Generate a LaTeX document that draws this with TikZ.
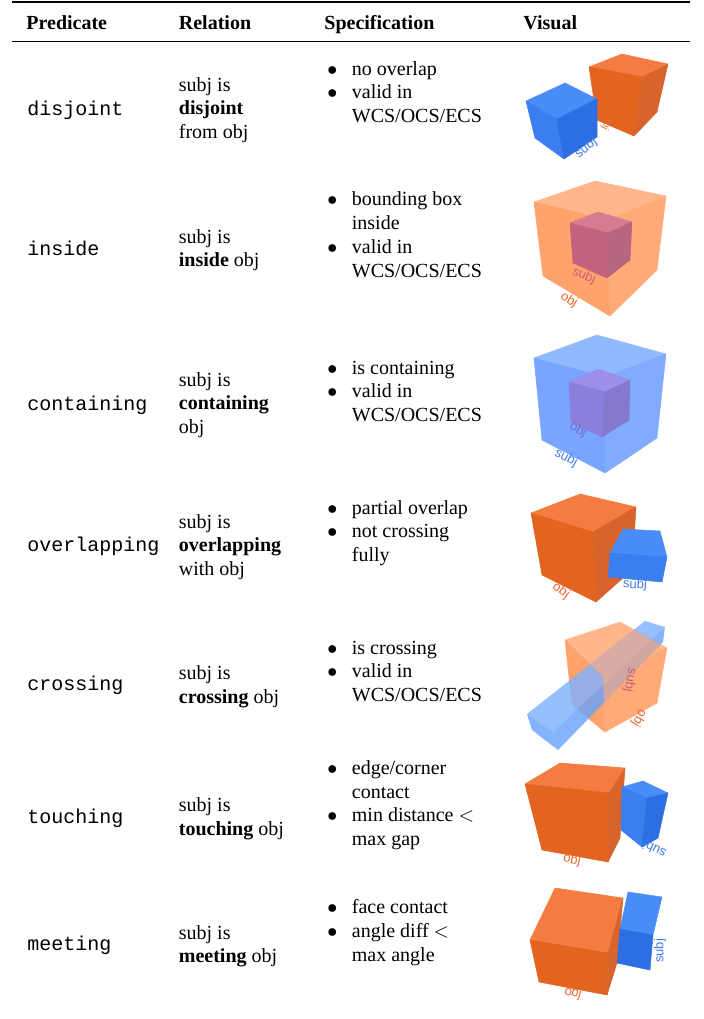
\documentclass[tikz,border=0pt]{standalone}
\usepackage{fontspec}
\setmainfont{Liberation Serif}
\setmonofont{Liberation Mono}
\newfontfamily\lblfont{Liberation Sans}

\definecolor{otop}{HTML}{F47C40}
\definecolor{oleft}{HTML}{E2641F}
\definecolor{oright}{HTML}{D8642C}
\definecolor{btop}{HTML}{4A8DF9}
\definecolor{bleft}{HTML}{3A7EF0}
\definecolor{bright}{HTML}{2D6FE2}
\definecolor{lotop}{HTML}{FFB68A}
\definecolor{loleft}{HTML}{FFA26C}
\definecolor{loright}{HTML}{FFAA77}
\definecolor{ptop}{HTML}{D57C92}
\definecolor{pleft}{HTML}{C3637F}
\definecolor{pright}{HTML}{B8657F}
\definecolor{lbtop}{HTML}{90B9FF}
\definecolor{lbleft}{HTML}{77A5FF}
\definecolor{lbright}{HTML}{80ABFF}
\definecolor{vtop}{HTML}{9C90EA}
\definecolor{vleft}{HTML}{8A80DB}
\definecolor{vright}{HTML}{8479CF}
\definecolor{bartop}{HTML}{7FB1FF}
\definecolor{barside}{HTML}{6AA2FB}
\definecolor{objtxt}{HTML}{E8692E}
\definecolor{subjtxt}{HTML}{3F7BEB}
\definecolor{pinktxt}{HTML}{C4627C}
\definecolor{purtxt}{HTML}{7B6CC8}

\newcommand{\bul}{\makebox[12.25pt][l]{$\bullet$}}
\newcommand{\ind}{\hspace*{12.25pt}}

\tikzset{
  hdr/.style={anchor=base west, inner sep=0, font=\bfseries},
  pred/.style={anchor=base west, inner sep=0, font=\ttfamily},
  rel/.style={anchor=base west, inner sep=0, align=left, font=\fontsize{10}{11.7}\selectfont},
  spec/.style={anchor=base west, inner sep=0, align=left, font=\fontsize{10}{11.9}\selectfont},
  face/.style={fill=#1, draw=#1, line width=0.25pt, line join=round},
  glass/.style={fill=#1, fill opacity=0.82},
  lbl/.style={inner sep=0, font=\lblfont\fontsize{6.5}{7}\selectfont},
}

\begin{document}
\begin{tikzpicture}[x=0.5pt, y=-0.5pt]
  \useasboundingbox (0,0) rectangle (704,1019);
  \draw[line width=0.9pt] (12,2) -- (690,2);
  \draw[line width=0.5pt] (12,41) -- (690,41);

  \node[hdr] (hpred) at (26,29.3) {Predicate};
  \node[hdr] (hrel) at (178.5,29.3) {Relation};
  \node[hdr] (hspec) at (324,29.3) {Specification};
  \node[hdr] (hvis) at (523,29.3) {Visual};

  % predicates
  \node[pred] (p1) at (27,115) {disjoint};
  \node[pred] (p2) at (27,255) {inside};
  \node[pred] (p3) at (27,410) {containing};
  \node[pred] (p4) at (27,551.7) {overlapping};
  \node[pred] (p5) at (27,690) {crossing};
  \node[pred] (p6) at (27,823.3) {touching};
  \node[pred] (p7) at (27,950.7) {meeting};

  % relations (base = last line)
  \node[rel] (r1) at (178.5,138.3) {subj is\\\textbf{disjoint}\\from obj};
  \node[rel] (r2) at (178.5,266.7) {subj is\\\textbf{inside} obj};
  \node[rel] (r3) at (178.5,433.3) {subj is\\\textbf{containing}\\obj};
  \node[rel] (r4) at (178.5,575) {subj is\\\textbf{overlapping}\\with obj};
  \node[rel] (r5) at (178.5,703.3) {subj is\\\textbf{crossing} obj};
  \node[rel] (r6) at (178.5,835) {subj is\\\textbf{touching} obj};
  \node[rel] (r7) at (178.5,962.7) {subj is\\\textbf{meeting} obj};

  % specifications
  \node[spec] (s1) at (327,122.7) {\bul no overlap\\\bul valid in\\\ind WCS/OCS/ECS};
  \node[spec] (s2) at (327,277.3) {\bul bounding box\\\ind inside\\\bul valid in\\\ind WCS/OCS/ECS};
  \node[spec] (s3) at (327,421.7) {\bul is containing\\\bul valid in\\\ind WCS/OCS/ECS};
  \node[spec] (s4) at (327,561.7) {\bul partial overlap\\\bul not crossing\\\ind fully};
  \node[spec] (s5) at (327,701.7) {\bul is crossing\\\bul valid in\\\ind WCS/OCS/ECS};
  \node[spec] (s6) at (327,845.7) {\bul edge/corner\\\ind contact\\\bul min distance $<$\\\ind max gap};
  \node[spec] (s7) at (327,961) {\bul face contact\\\bul angle diff $<$\\\ind max angle};

  % disjoint
  \path[face=otop] (589,67) -- (622,54) -- (668,64) -- (643,77) -- cycle;
  \path[face=oleft] (589,67) -- (643,77) -- (634,136) -- (597,120) -- cycle;
  \path[face=oright] (643,77) -- (668,64) -- (657,112) -- (634,136) -- cycle;
  \path[face=btop] (526,101) -- (565,83) -- (597,99) -- (557,119) -- cycle;
  \path[face=bleft] (526,101) -- (557,119) -- (564,159) -- (535,138) -- cycle;
  \path[face=bright] (557,119) -- (597,99) -- (597,137) -- (564,159) -- cycle;
  \node[lbl, text=subjtxt, rotate=40] (d1) at (586,148) {subj};
  \node[lbl, text=objtxt, rotate=-115, font=\lblfont\fontsize{5}{6}\selectfont] (d2) at (607,124) {obj};

  % inside
  \path[face=lotop] (534,202) -- (595,181) -- (666,196) -- (608,220) -- cycle;
  \path[face=loleft] (534,202) -- (608,220) -- (610,316) -- (543,276) -- cycle;
  \path[face=loright] (608,220) -- (666,196) -- (657,270) -- (610,316) -- cycle;
  \path[face=ptop] (570,223) -- (598,212) -- (632,222) -- (608,233) -- cycle;
  \path[face=pleft] (570,223) -- (608,233) -- (607,278) -- (573,263) -- cycle;
  \path[face=pright] (608,233) -- (632,222) -- (630,260) -- (607,278) -- cycle;
  \node[lbl, text=pinktxt, rotate=-25] (i1) at (584,276) {subj};
  \node[lbl, text=objtxt, rotate=-32] (i2) at (569,300) {obj};

  % containing
  \path[face=lbtop] (534,358) -- (597,335) -- (666,354) -- (605,377) -- cycle;
  \path[face=lbleft] (534,358) -- (605,377) -- (605,473) -- (542,440) -- cycle;
  \path[face=lbright] (605,377) -- (666,354) -- (657,438) -- (605,473) -- cycle;
  \path[face=vtop] (569,382) -- (598,369) -- (630,380) -- (605,392) -- cycle;
  \path[face=vleft] (569,382) -- (605,392) -- (602,437) -- (571,422) -- cycle;
  \path[face=vright] (605,392) -- (630,380) -- (629,420) -- (602,437) -- cycle;
  \node[lbl, text=purtxt, rotate=-30] (c1) at (578,430) {obj};
  \node[lbl, text=subjtxt, rotate=-28] (c2) at (566,458) {subj};

  % overlapping
  \path[face=otop] (531,513) -- (580,494) -- (636,507) -- (593,532) -- cycle;
  \path[face=oleft] (531,513) -- (593,532) -- (596,602) -- (542,575) -- cycle;
  \path[face=oright] (593,532) -- (636,507) -- (632,570) -- (596,602) -- cycle;
  \path[face=btop] (610,553) -- (623,529) -- (660,531) -- (667,557) -- cycle;
  \path[face=bleft] (610,553) -- (667,557) -- (662,582) -- (608,577) -- cycle;
  \node[lbl, text=objtxt, rotate=-35] (o1) at (561,591) {obj};
  \node[lbl, text=subjtxt, rotate=-3] (o2) at (635,585) {subj};

  % crossing
  \path[face=lotop] (565,640) -- (620,622) -- (667,648) -- (603,677) -- cycle;
  \path[face=loleft] (565,640) -- (603,677) -- (605,732) -- (572,705) -- cycle;
  \path[face=loright] (603,677) -- (667,648) -- (657,703) -- (605,732) -- cycle;
  \path[glass=bartop] (527,714) -- (645,621) -- (665,627) -- (553,732) -- cycle;
  \path[glass=barside] (553,732) -- (665,627) -- (663,642) -- (558,750) -- cycle;
  \path[glass=barside] (527,714) -- (553,732) -- (558,750) -- (532,730) -- cycle;
  \begin{scope}
    \clip (527,714) -- (645,621) -- (665,627) -- (663,642) -- (558,750) -- (532,730) -- cycle;
    \path[glass=loright, fill opacity=0.62] (565,640) -- (620,622) -- (667,648) -- (657,703) -- (605,732) -- (603,677) -- cycle;
  \end{scope}
  \node[lbl, text=pinktxt, rotate=-100] (x1) at (630,680) {subj};
  \node[lbl, text=objtxt, rotate=-120] (x2) at (639,718) {obj};

  % touching
  \path[face=otop] (525,784) -- (560,763) -- (625,768) -- (609,793) -- cycle;
  \path[face=oleft] (525,784) -- (609,793) -- (608,862) -- (542,850) -- cycle;
  \path[face=oright] (609,793) -- (625,768) -- (620,838) -- (608,862) -- cycle;
  \path[face=btop] (622,787) -- (643,781) -- (668,793) -- (647,798) -- cycle;
  \path[face=bleft] (622,787) -- (647,798) -- (642,847) -- (621,830) -- cycle;
  \path[face=bright] (647,798) -- (668,793) -- (658,838) -- (642,847) -- cycle;
  \node[lbl, text=objtxt, rotate=-10] (t1) at (572,860) {obj};
  \node[lbl, text=subjtxt, rotate=155] (t2) at (655,848) {subj};

  % meeting
  \path[face=otop] (530,940) -- (555,888) -- (623,898) -- (608,953) -- cycle;
  \path[face=oleft] (530,940) -- (608,953) -- (607,995) -- (539,982) -- cycle;
  \path[face=oright] (608,953) -- (623,898) -- (617,963) -- (607,995) -- cycle;
  \path[face=btop] (628,892) -- (662,897) -- (653,935) -- (620,929) -- cycle;
  \path[face=bright] (620,929) -- (653,935) -- (650,970) -- (617,963) -- cycle;
  \node[lbl, text=objtxt, rotate=-15] (m1) at (573,993) {obj};
  \node[lbl, text=subjtxt, rotate=90] (m2) at (660,951) {subj};
\end{tikzpicture}
\end{document}
